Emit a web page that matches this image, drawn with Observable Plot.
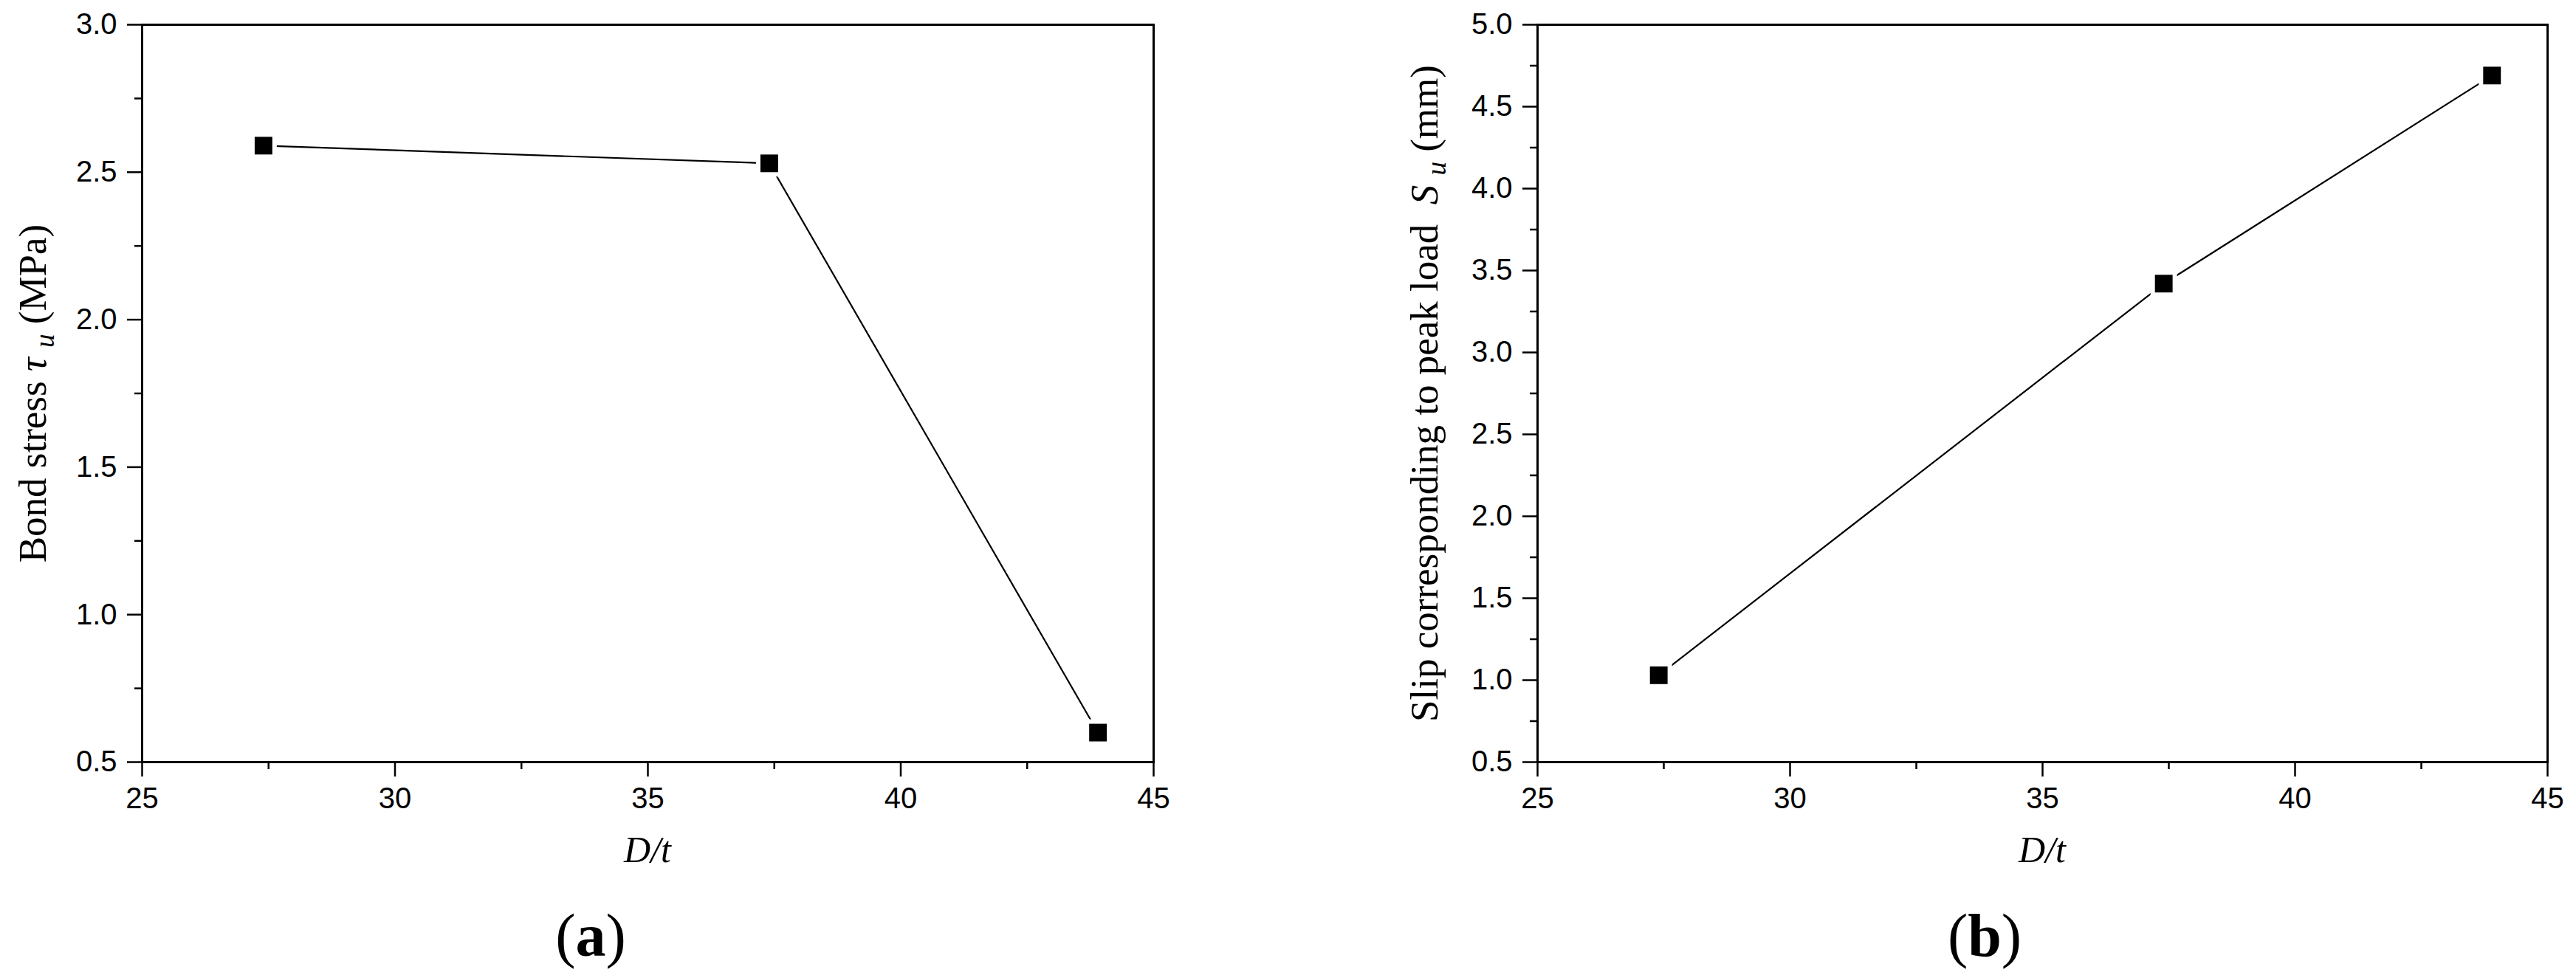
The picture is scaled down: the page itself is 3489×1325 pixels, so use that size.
<!DOCTYPE html>
<html><head><meta charset="utf-8">
<script src="https://cdn.jsdelivr.net/npm/d3@7"></script>
<script src="https://cdn.jsdelivr.net/npm/@observablehq/plot@0.6"></script>
<style>
body{margin:0;background:#fff;}
#wrap{display:flex;width:3489px;height:1325px;background:#fff;}
#wrap svg{display:block;}
</style></head><body><div id="wrap"></div>
<script>
// ---- data ----
const dOverT = [27.4, 37.4, 43.9];
const bondStress = [2.59, 2.53, 0.60];   // panel (a), MPa
const slipAtPeak = [1.03, 3.42, 4.69];   // panel (b), mm
const xTicks = [25, 30, 35, 40, 45];
const xMinor = [27.5, 32.5, 37.5, 42.5];
const yTicksA = [0.5, 1.0, 1.5, 2.0, 2.5, 3.0];
const yMinorA = [0.75, 1.25, 1.75, 2.25, 2.75];
const yTicksB = [0.5, 1.0, 1.5, 2.0, 2.5, 3.0, 3.5, 4.0, 4.5, 5.0];
const yMinorB = [0.75, 1.25, 1.75, 2.25, 2.75, 3.25, 3.75, 4.25, 4.75];

const SANS = "'Liberation Sans', Arial, Helvetica, sans-serif";
const SERIF = "'Liberation Serif', 'Times New Roman', Times, serif";
const fmt = d3.format(".1f");

function panel(cfg) {
  const data = dOverT.map((x, i) => ({x, y: cfg.values[i]}));
  return Plot.plot({
    width: cfg.width, height: 1325,
    marginTop: 33, marginBottom: 293,
    marginLeft: cfg.marginLeft, marginRight: cfg.marginRight,
    x: {domain: [25, 45]},
    y: {domain: cfg.yDomain},
    style: {background: "white", fontFamily: SANS, color: "black"},
    marks: [
      Plot.axisX(xTicks, {tickSize: 20, tickPadding: 14, strokeWidth: 2.5, fontSize: 40, label: null, tickFormat: d => String(d)}),
      Plot.axisX(xMinor, {tickSize: 10, strokeWidth: 2.5, label: null, tickFormat: () => ""}),
      Plot.axisY(cfg.yTicks, {tickSize: 20, tickPadding: 14, strokeWidth: 2.5, fontSize: 40, label: null, tickFormat: fmt}),
      Plot.axisY(cfg.yMinor, {tickSize: 10, strokeWidth: 2.5, label: null, tickFormat: () => ""}),
      Plot.frame({stroke: "black", strokeWidth: 3}),
      Plot.line(data, {x: "x", y: "y", stroke: "black", strokeWidth: 2.2}),
      Plot.dot(data, {x: "x", y: "y", symbol: "square", r: 13.5, fill: "black", stroke: "white", strokeWidth: 12, paintOrder: "stroke"})
    ]
  });
}

function addLabels(svg, L) {
  const s = d3.select(svg);
  // y label
  const yl = s.append("text")
    .attr("transform", `translate(${L.yLabelX},${L.yLabelY}) rotate(-90)`)
    .attr("text-anchor", "middle")
    .attr("font-family", SERIF).attr("font-size", 53).attr("fill", "black");
  L.yParts.forEach(p => {
    const t = yl.append("tspan").text(p.t);
    if (p.italic) t.attr("font-style", "italic");
    if (p.sub) t.attr("font-size", 37).attr("baseline-shift", "-30%");
  });
  // x label
  s.append("text")
    .attr("x", L.xLabelX).attr("y", 1168)
    .attr("text-anchor", "middle")
    .attr("font-family", SERIF).attr("font-size", 50).attr("fill", "black")
    .attr("font-style", "italic")
    .text("D/t");
  // panel tag
  const tg = s.append("text")
    .attr("x", L.tagX).attr("y", 1295)
    .attr("text-anchor", "middle")
    .attr("font-family", SERIF).attr("font-size", 82).attr("fill", "black");
  tg.append("tspan").text("(");
  tg.append("tspan").attr("font-weight", "bold").text(L.tag);
  tg.append("tspan").text(")");
}

const wrap = document.getElementById("wrap");

const WA = 1745;
const svgA = panel({width: WA, marginLeft: 192, marginRight: WA - 1562, values: bondStress,
  yDomain: [0.5, 3.0], yTicks: yTicksA, yMinor: yMinorA});
addLabels(svgA, {
  yLabelX: 62, yLabelY: 533,
  yParts: [{t: "Bond stress "}, {t: "τ", italic: true}, {t: " "}, {t: "u", italic: true, sub: true}, {t: " (MPa)"}],
  xLabelX: 877, tagX: 800, tag: "a"
});
wrap.appendChild(svgA);

const WB = 3489 - WA;
const svgB = panel({width: WB, marginLeft: 2082 - WA, marginRight: 3489 - 3450, values: slipAtPeak,
  yDomain: [0.5, 5.0], yTicks: yTicksB, yMinor: yMinorB});
addLabels(svgB, {
  yLabelX: 1947 - WA, yLabelY: 533,
  yParts: [{t: "Slip corresponding to peak load  "}, {t: "S", italic: true}, {t: " "}, {t: "u", italic: true, sub: true}, {t: " (mm)"}],
  xLabelX: 2766 - WA, tagX: 2688 - WA, tag: "b"
});
wrap.appendChild(svgB);
</script>
</body></html>
